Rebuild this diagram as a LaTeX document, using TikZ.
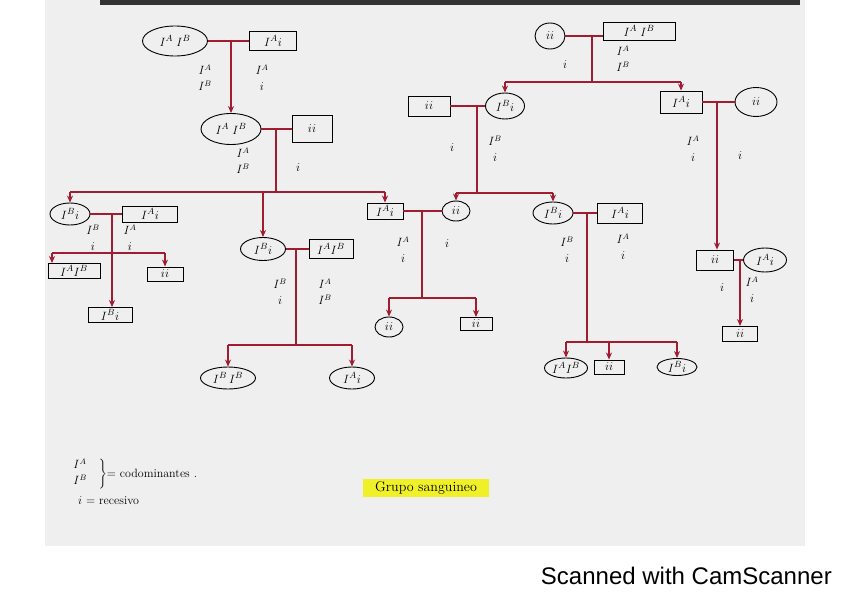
\documentclass[tikz,border=0pt]{standalone}
\usepackage{fontspec}
\newfontfamily\scanfont{Liberation Sans}
\usetikzlibrary{shapes.geometric,arrows.meta}
\definecolor{linered}{RGB}{160,28,48}
\definecolor{paper}{RGB}{239,239,239}
\definecolor{hilite}{RGB}{240,240,40}
\tikzset{
  gt/.style={font=\fontsize{13}{14}\selectfont, inner sep=0pt},
  fem/.style={ellipse, draw=black, line width=0.9pt, gt},
  male/.style={rectangle, draw=black, line width=0.9pt, gt},
  rline/.style={draw=linered, line width=1.1pt},
  rarr/.style={rline, -{Stealth[length=7pt,width=6pt]}},
  lbl/.style={font=\fontsize{12}{16}\selectfont, align=center, inner sep=0pt},
}
\begin{document}
\begin{tikzpicture}[x=1pt,y=-1pt]
\useasboundingbox (0,0) rectangle (848,599);
\fill[white] (0,0) rectangle (848,599);
\fill[paper] (45,0) rectangle (805,546);
\fill[black!80] (100,0) rectangle (800,5);

% ---------- left family ----------
\node[fem, minimum width=65, minimum height=30] (n1) at (175,41) {$I^A\;I^B$};
\node[male, minimum width=47, minimum height=19] (n2) at (273,41) {$I^A i$};
\coordinate (m1) at (231,41);
\node[lbl] (l1) at (205,78) {$I^A$\\$I^B$};
\node[lbl] (l2) at (262,78) {$I^A$\\$i$};

\node[fem, minimum width=60, minimum height=31] (n3) at (231,129) {$I^A\;I^B$};
\node[male, minimum width=40, minimum height=27] (n4) at (312,129) {$ii$};
\coordinate (m2) at (276,129);
\node[lbl] (l3) at (243,161) {$I^A$\\$I^B$};
\node[lbl] (l4) at (298,168) {$i$};
\coordinate (s1) at (276,192);

\node[fem, minimum width=40, minimum height=22] (n5) at (70,214) {$I^B i$};
\node[male, minimum width=55, minimum height=16] (n6) at (150,214) {$I^A i$};
\coordinate (m3) at (112,214);
\node[lbl] (l5) at (93,238) {$I^B$\\$i$};
\node[lbl] (l6) at (130,238) {$I^A$\\$i$};
\coordinate (s2) at (112,253);
\node[male, minimum width=52, minimum height=15] (n7) at (74,271) {$I^A I^B$};
\node[male, minimum width=36, minimum height=14] (n8) at (165,274) {$ii$};
\node[male, minimum width=44, minimum height=15] (n8b) at (110,315) {$I^B i$};
\coordinate (a7) at (52,271);

\node[fem, minimum width=45, minimum height=23] (n9) at (263,249) {$I^B i$};
\node[male, minimum width=44, minimum height=19] (n10) at (331,249) {$I^A I^B$};
\coordinate (m4) at (296,249);
\node[lbl] (l7) at (280,292) {$I^B$\\$i$};
\node[lbl] (l8) at (325,292) {$I^A$\\$I^B$};
\coordinate (s3) at (296,345);
\node[fem, minimum width=55, minimum height=22] (n11) at (228,378) {$I^B\,I^B$};
\node[fem, minimum width=45, minimum height=22] (n12) at (352,378) {$I^A i$};

\node[male, minimum width=36, minimum height=16] (n13) at (385,211) {$I^A i$};
\node[fem, minimum width=28, minimum height=20] (n14) at (456,211) {$ii$};
\coordinate (m5) at (422,211);
\node[lbl] (l9) at (403,250) {$I^A$\\$i$};
\node[lbl] (l10) at (447,244) {$i$};
\coordinate (s4) at (422,298);
\node[fem, minimum width=28, minimum height=20] (n15) at (389,327) {$ii$};
\node[male, minimum width=32, minimum height=13] (n16) at (476,324) {$ii$};

% ---------- right family ----------
\node[fem, minimum width=30, minimum height=26] (n17) at (550,36) {$ii$};
\node[male, minimum width=72, minimum height=18] (n18) at (639,31) {$I^A\;I^B$};
\coordinate (m6) at (592,36);
\node[lbl] (l11) at (565,65) {$i$};
\node[lbl] (l12) at (623,59) {$I^A$\\$I^B$};
\coordinate (s5) at (592,82);

\node[male, minimum width=42, minimum height=20] (n19) at (429,106) {$ii$};
\node[fem, minimum width=39, minimum height=26] (n20) at (505,106) {$I^B i$};
\coordinate (m7) at (477,106);
\node[lbl] (l13) at (452,148) {$i$};
\node[lbl] (l14) at (495,149) {$I^B$\\$i$};
\coordinate (s6) at (477,193);

\node[male, minimum width=42, minimum height=22] (n22) at (681,102) {$I^A i$};
\node[fem, minimum width=42, minimum height=29] (n23) at (756,102) {$ii$};
\coordinate (m8) at (717,102);
\node[lbl] (l15) at (693,149) {$I^A$\\$i$};
\node[lbl] (l16) at (740,156) {$i$};

\node[fem, minimum width=40, minimum height=22] (n21) at (553,213) {$I^B i$};
\node[male, minimum width=45, minimum height=20] (n24) at (620,213) {$I^A i$};
\coordinate (m9) at (587,213);
\node[lbl] (l17) at (567,250) {$I^B$\\$i$};
\node[lbl] (l18) at (623,247) {$I^A$\\$i$};
\coordinate (s7) at (587,342);
\node[fem, minimum width=43, minimum height=20] (n25) at (566,368) {$I^A I^B$};
\node[male, minimum width=30, minimum height=14] (n26) at (609,367) {$ii$};
\node[fem, minimum width=40, minimum height=17] (n26b) at (677,367) {$I^B i$};

\node[male, minimum width=37, minimum height=20] (n27) at (715,260) {$ii$};
\node[fem, minimum width=43, minimum height=24] (n28) at (765,260) {$I^A i$};
\coordinate (m10) at (740,260);
\node[lbl] (l19) at (722,288) {$i$};
\node[lbl] (l20) at (752,290) {$I^A$\\$i$};
\node[male, minimum width=35, minimum height=15] (n29) at (740,334) {$ii$};

% ---------- connectors ----------
\draw[rline] (n1) -- (n2);
\draw[rarr] (m1) -- (m1 |- n3.north);
\draw[rline] (n3) -- (n4);
\draw[rline] (m2) -- (s1);
\draw[rline] (n5.north |- s1) -- (n13.north |- s1);
\draw[rarr] (n5.north |- s1) -- (n5.north);
\draw[rarr] (n9.north |- s1) -- (n9.north);
\draw[rarr] (n13.north |- s1) -- (n13.north);

\draw[rline] (n5) -- (n6);
\draw[rarr] (m3) -- (m3 |- n8b.north);
\draw[rline] (a7 |- s2) -- (n8.north |- s2);
\draw[rarr] (a7 |- s2) -- (a7 |- n7.north);
\draw[rarr] (n8.north |- s2) -- (n8.north);

\draw[rline] (n9) -- (n10);
\draw[rline] (m4) -- (s3);
\draw[rline] (n11.north |- s3) -- (n12.north |- s3);
\draw[rarr] (n11.north |- s3) -- (n11.north);
\draw[rarr] (n12.north |- s3) -- (n12.north);

\draw[rline] (n13) -- (n14);
\draw[rline] (m5) -- (s4);
\draw[rline] (n15.north |- s4) -- (n16.north |- s4);
\draw[rarr] (n15.north |- s4) -- (n15.north);
\draw[rarr] (n16.north |- s4) -- (n16.north);

\draw[rline] (n17) -- (n18.west |- m6);
\draw[rline] (m6) -- (s5);
\draw[rline] (n20.north |- s5) -- (n22.north |- s5);
\draw[rarr] (n20.north |- s5) -- (n20.north);
\draw[rarr] (n22.north |- s5) -- (n22.north);

\draw[rline] (n19) -- (n20);
\draw[rline] (m7) -- (s6);
\draw[rline] (n14.north |- s6) -- (n21.north |- s6);
\draw[rarr] (n14.north |- s6) -- (n14.north);
\draw[rarr] (n21.north |- s6) -- (n21.north);

\draw[rline] (n22) -- (n23);
\draw[rarr] (m8) -- (m8 |- n27.north);

\draw[rline] (n21) -- (n24);
\draw[rline] (m9) -- (s7);
\draw[rline] (n25.north |- s7) -- (n26b.north |- s7);
\draw[rarr] (n25.north |- s7) -- (n25.north);
\draw[rarr] (n26.north |- s7) -- (n26.north);
\draw[rarr] (n26b.north |- s7) -- (n26b.north);

\draw[rline] (n27) -- (n28);
\draw[rarr] (m10) -- (n29.north);

% ---------- legend ----------
\node[anchor=west, inner sep=0pt, font=\fontsize{12}{14}\selectfont] (leg1) at (72,474)
  {$\left.\begin{array}{@{}l@{}}I^{A}\\[2pt] I^{B}\end{array}\quad\right\}$= codominantes .};
\node[anchor=west, inner sep=0pt, font=\fontsize{12}{14}\selectfont] (leg2) at (78,501) {$i$ = recesivo};
\node[fill=hilite, inner xsep=12pt, inner ysep=3pt, font=\fontsize{14}{16}\selectfont] (title) at (426,488) {Grupo sanguineo};

\node[anchor=east, inner sep=0pt, font=\scanfont\fontsize{24}{26}\selectfont] (scan) at (832,576) {Scanned with CamScanner};
\end{tikzpicture}
\end{document}
